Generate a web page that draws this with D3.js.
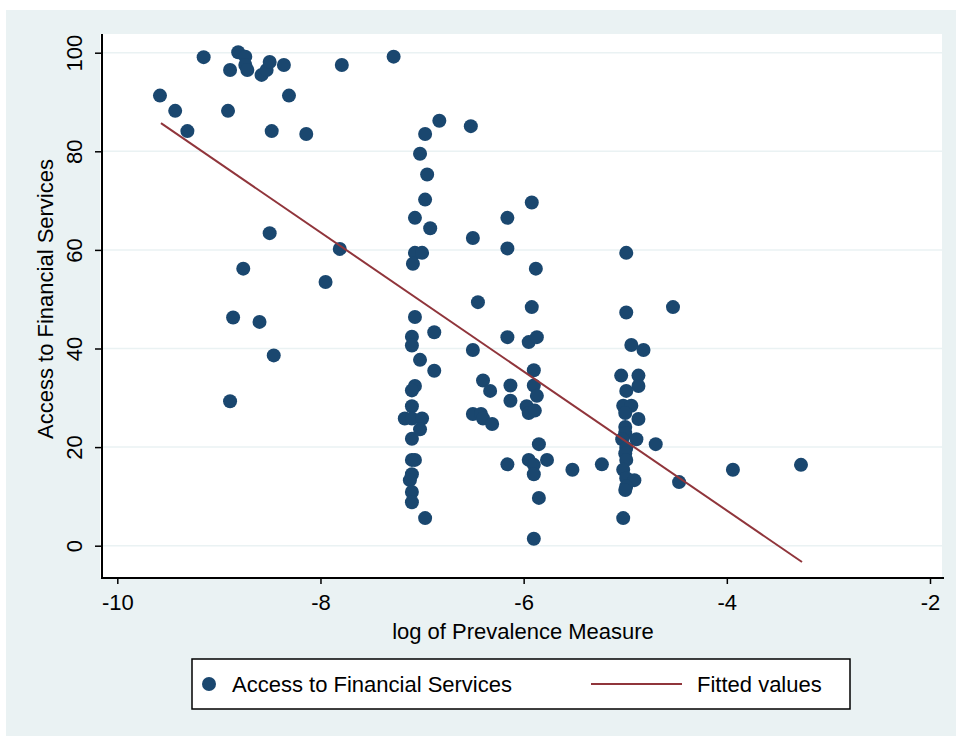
<!DOCTYPE html>
<html>
<head>
<meta charset="utf-8">
<script src="https://cdn.jsdelivr.net/npm/d3@7"></script>
<style>
  body { margin: 0; background: #ffffff; }
  text { font-family: "Liberation Sans", Arial, Helvetica, sans-serif; fill: #000; }
</style>
</head>
<body>
<div id="chart"></div>
<script>
// log of prevalence measure (x) and access to financial services (y)
var prevalence = [
  -9.58, -9.43, -9.31, -9.15, -8.89, -8.91, -8.81, -8.74, -8.74, -8.72,
  -8.58, -8.53, -8.50, -8.36, -8.31, -8.48, -8.14, -8.50, -8.76, -7.81,
  -7.95, -8.86, -8.60, -8.46, -8.89, -7.79, -7.28,
  -6.83, -6.97, -7.02, -6.95, -6.97, -7.07, -6.92, -7.07, -7.00, -7.09,
  -7.07, -6.88, -7.10, -7.10, -7.02, -6.88, -7.07, -7.10, -7.10, -7.17,
  -7.10, -7.00, -7.02, -7.10, -7.10, -7.07, -7.10, -7.12, -7.10, -7.10, -6.97,
  -6.52, -6.50, -6.45, -6.50, -6.40, -6.33, -6.50, -6.42, -6.40, -6.31,
  -6.16, -6.16, -6.16, -6.13, -6.13, -6.16,
  -5.92, -5.88, -5.92, -5.95, -5.87, -5.90, -5.90, -5.87, -5.97, -5.95,
  -5.89, -5.85, -5.95, -5.77, -5.90, -5.90, -5.85, -5.90,
  -5.52, -5.23,
  -4.99, -4.99, -4.94, -4.82, -5.04, -4.87, -4.87, -4.99, -5.02, -4.94,
  -5.00, -4.87, -5.00, -5.00, -4.89, -5.03, -4.99, -5.00, -4.99, -5.02,
  -4.99, -4.91, -4.99, -5.00, -5.02, -4.70, -4.53, -4.47, -3.94, -3.27
];
var access = [
  91.3, 88.2, 84.1, 99.1, 96.5, 88.2, 100.1, 99.2, 97.5, 96.5,
  95.5, 96.5, 98.1, 97.5, 91.3, 84.1, 83.5, 63.4, 56.2, 60.2,
  53.5, 46.3, 45.4, 38.6, 29.3, 97.5, 99.2,
  86.2, 83.5, 79.5, 75.3, 70.2, 66.5, 64.4, 59.4, 59.4, 57.2,
  46.4, 43.3, 42.4, 40.6, 37.7, 35.5, 32.4, 31.5, 28.3, 25.8,
  25.8, 25.8, 23.6, 21.7, 17.4, 17.4, 14.5, 13.3, 10.9, 8.8, 5.6,
  85.1, 62.4, 49.4, 39.7, 33.5, 31.4, 26.7, 26.7, 25.8, 24.7,
  66.5, 60.3, 42.3, 32.5, 29.4, 16.5,
  69.6, 56.2, 48.4, 41.3, 42.3, 35.6, 32.5, 30.4, 28.3, 26.9,
  27.4, 20.6, 17.4, 17.4, 16.4, 14.5, 9.7, 1.4,
  15.4, 16.5,
  59.4, 47.3, 40.7, 39.7, 34.5, 34.5, 32.4, 31.4, 28.4, 28.4,
  26.9, 25.7, 24.1, 22.8, 21.6, 21.6, 19.8, 18.7, 17.4, 15.4,
  13.7, 13.3, 12.0, 11.3, 5.6, 20.6, 48.4, 12.9, 15.4, 16.4
];

// fitted values line
var fitted_x = [-9.57, -3.26];
var fitted_y = [85.7, -3.3];

var x_ticks = [-10, -8, -6, -4, -2];
var y_ticks = [0, 20, 40, 60, 80, 100];

var width = 956;
var height = 736;

var svg = d3.select('#chart')
  .append('svg')
  .attr('width', width)
  .attr('height', height);

// backgrounds
svg.append('rect')
  .attr('x', 6).attr('y', 10)
  .attr('width', width - 6).attr('height', height - 10)
  .attr('fill', '#eaf2f3');
svg.append('rect')
  .attr('x', 100).attr('y', 34)
  .attr('width', 842).attr('height', 544)
  .attr('fill', '#ffffff');

// scales
var x_scale = d3.scaleLinear().domain([-10, -2]).range([117.3, 930]);
var y_scale = d3.scaleLinear().domain([0, 100]).range([545.7, 52.7]);

// grid lines
svg.append('g').selectAll('line')
  .data(y_ticks)
  .enter()
  .append('line')
  .attr('x1', 102).attr('x2', 942)
  .attr('y1', function(d){ return y_scale(d); })
  .attr('y2', function(d){ return y_scale(d); })
  .attr('stroke', '#eaf2f3')
  .attr('stroke-width', 1.5);

// x axis
var x_axis = d3.axisBottom(x_scale)
  .tickValues(x_ticks)
  .tickSize(6)
  .tickPadding(4)
  .tickFormat(function(d){ return String(d); });
var gx = svg.append('g')
  .attr('transform', 'translate(0,578)')
  .call(x_axis);
gx.select('.domain').attr('d', 'M101,0H944').attr('stroke', '#000').attr('stroke-width', 2);
gx.selectAll('.tick line').attr('stroke', '#000').attr('stroke-width', 1.5);
gx.selectAll('.tick text')
  .attr('font-size', 22)
  .attr('dy', null)
  .attr('y', 32);

// y axis
var y_axis = d3.axisLeft(y_scale)
  .tickValues(y_ticks)
  .tickSize(7)
  .tickFormat(function(d){ return String(d); });
var gy = svg.append('g')
  .attr('transform', 'translate(102,0)')
  .call(y_axis);
gy.select('.domain').attr('d', 'M0,34V579').attr('stroke', '#000').attr('stroke-width', 2);
gy.selectAll('.tick line').attr('stroke', '#000').attr('stroke-width', 1.5);
gy.selectAll('.tick text')
  .attr('font-size', 22)
  .attr('text-anchor', 'middle')
  .attr('x', 0)
  .attr('dy', null)
  .attr('y', -20)
  .attr('transform', 'rotate(-90)');

// axis titles
svg.append('text')
  .attr('x', 523).attr('y', 639)
  .attr('text-anchor', 'middle')
  .attr('font-size', 22)
  .text('log of Prevalence Measure');
svg.append('text')
  .attr('transform', 'translate(53,299) rotate(-90)')
  .attr('text-anchor', 'middle')
  .attr('font-size', 22)
  .text('Access to Financial Services');

// points
var points = prevalence.map(function(d, i){ return [d, access[i]]; });
svg.append('g').selectAll('circle')
  .data(points)
  .enter()
  .append('circle')
  .attr('cx', function(d){ return x_scale(d[0]); })
  .attr('cy', function(d){ return y_scale(d[1]); })
  .attr('r', 7)
  .attr('fill', '#1a476f');

// fitted line
var line = d3.line()
  .x(function(d){ return x_scale(d[0]); })
  .y(function(d){ return y_scale(d[1]); });
svg.append('path')
  .datum(fitted_x.map(function(d, i){ return [d, fitted_y[i]]; }))
  .attr('d', line)
  .attr('fill', 'none')
  .attr('stroke', '#90353b')
  .attr('stroke-width', 2);

// legend
var legend = svg.append('g');
legend.append('rect')
  .attr('x', 192).attr('y', 659)
  .attr('width', 658).attr('height', 50)
  .attr('fill', '#ffffff')
  .attr('stroke', '#000')
  .attr('stroke-width', 1.5);
legend.append('circle')
  .attr('cx', 209).attr('cy', 684).attr('r', 7)
  .attr('fill', '#1a476f');
legend.append('text')
  .attr('x', 232).attr('y', 692)
  .attr('font-size', 22)
  .text('Access to Financial Services');
legend.append('line')
  .attr('x1', 591).attr('x2', 682)
  .attr('y1', 684).attr('y2', 684)
  .attr('stroke', '#90353b')
  .attr('stroke-width', 2);
legend.append('text')
  .attr('x', 697).attr('y', 692)
  .attr('font-size', 22)
  .text('Fitted values');
</script>
</body>
</html>
